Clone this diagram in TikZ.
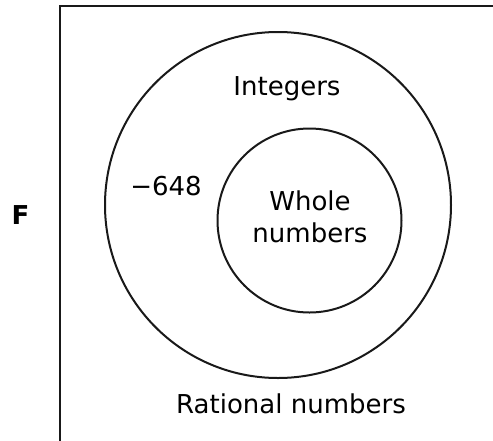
\documentclass[tikz,border=0pt]{standalone}
\usepackage{fontspec}
\setmainfont{DejaVu Sans}
\begin{document}
\begin{tikzpicture}[x=1pt, y=-1pt,
   every node/.style={font=\fontsize{26}{32}\selectfont},
   setline/.style={draw=black!90, line width=2pt},
   setcircle/.style={setline, circle, inner sep=0pt},
   lbl/.style={anchor=base, inner sep=0pt}]
  \useasboundingbox (0,0) rectangle (493,440);
  \clip (0,0) rectangle (493,440);
  % universe
  \draw[setline, line width=2.4pt] (60,510) -- (60,6) -- (560,6);
  % sets
  \node[setcircle, minimum size=346pt] (integers) at (278,205) {};
  \node[setcircle, minimum size=184pt] (whole) at (309.5,220.5) {};
  % labels
  \node[lbl] (intlabel) at (287,95) {Integers};
  \node[lbl] (value) at (166,195) {−648};
  \node[lbl, align=center] (wholelabel) at (310,242) {Whole\\numbers};
  \node[lbl] (ratlabel) at (291,413) {Rational numbers};
  \node[lbl, font=\fontsize{26}{32}\selectfont\bfseries] (choice) at (20.5,224) {F};
\end{tikzpicture}
\end{document}
